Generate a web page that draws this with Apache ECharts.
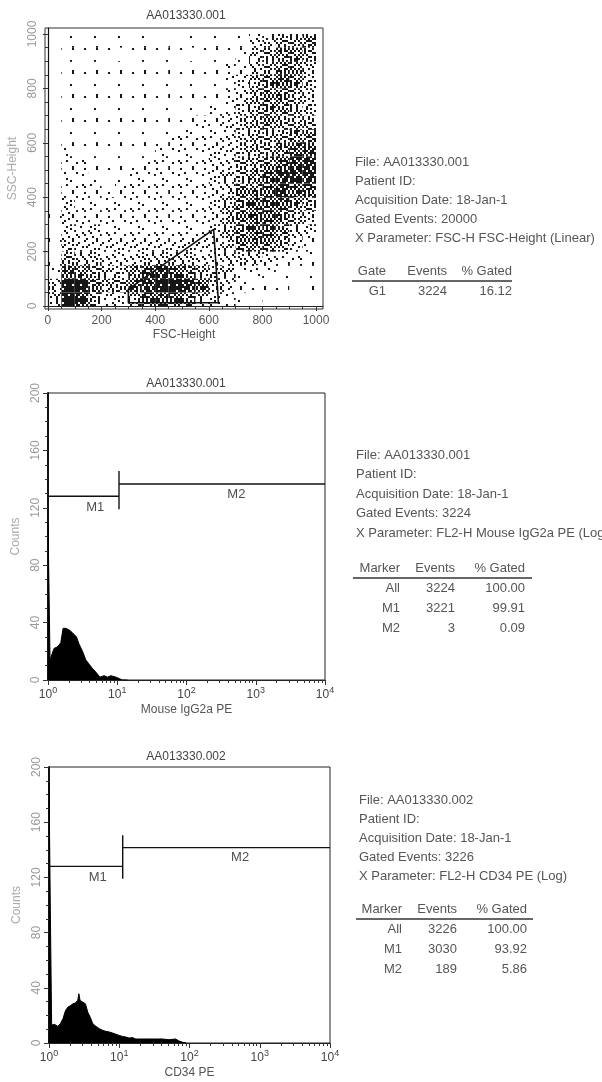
<!DOCTYPE html>
<html>
<head>
<meta charset="utf-8">
<script src="https://cdn.jsdelivr.net/npm/echarts@6/dist/echarts.min.js"></script>
<style>
  html, body { margin: 0; padding: 0; background: #fff; }
  #chart { width: 602px; height: 1082px; }
</style>
</head>
<body>
<div id="chart"></div>
<script>
// ---- panel 1: FSC-Height / SSC-Height dot plot, read as 50-channel density bins ----
// level 0 = empty ... 9 = solid black
var fscBins = [25, 75, 125, 175, 225, 275, 325, 375, 425, 475, 525, 575, 625, 675, 725, 775, 825, 875, 925, 975];
var sscBinsTopDown = [975, 925, 875, 825, 775, 725, 675, 625, 575, 525, 475, 425, 375, 325, 275, 225, 175, 125, 75, 25];
var densityTopDown = [
  [0,1,1,1,0,1,1,1,0,1,1,1,1,1,1,3,4,5,5,6],
  [0,1,1,1,1,0,1,1,1,1,0,1,1,1,2,4,5,6,6,5],
  [0,1,1,1,1,1,1,1,1,1,1,1,1,2,2,4,5,6,6,4],
  [0,1,1,1,1,1,1,1,1,1,1,1,1,2,3,5,6,7,6,4],
  [0,1,1,1,1,1,1,1,1,1,1,1,1,2,3,5,6,6,5,4],
  [0,1,1,1,1,1,1,1,1,1,1,1,2,2,4,5,6,6,5,4],
  [0,1,1,1,1,1,1,1,1,1,1,2,2,3,4,5,6,5,5,5],
  [0,1,1,1,1,1,1,1,1,2,2,2,2,3,4,5,5,5,6,6],
  [0,2,1,1,1,1,1,1,2,2,2,2,3,3,4,5,5,6,7,7],
  [0,2,2,1,1,1,1,2,2,2,2,2,3,3,5,5,6,7,8,8],
  [0,2,2,1,1,1,2,2,2,2,2,2,3,4,5,6,7,8,8,8],
  [0,2,2,2,1,2,2,2,2,2,2,2,3,4,6,6,7,8,7,7],
  [1,3,2,2,2,2,2,2,2,2,2,2,3,5,6,7,7,7,6,5],
  [1,3,2,2,2,2,2,2,2,2,2,2,3,5,6,7,7,6,5,4],
  [1,3,3,3,2,2,2,2,2,2,2,2,3,5,6,7,7,6,4,3],
  [1,4,3,3,3,3,3,3,3,3,3,3,3,4,6,6,6,5,3,2],
  [1,5,4,4,3,3,3,4,4,4,4,3,3,4,4,4,3,2,2,1],
  [2,7,6,5,4,4,6,7,8,7,6,5,4,4,2,2,2,1,1,1],
  [4,9,9,6,5,5,7,8,9,9,8,7,4,3,2,1,1,1,0,1],
  [4,9,8,5,3,3,5,7,7,7,6,4,3,2,1,1,0,0,0,0]
];
var binWidth = 50;
var gateG1 = [[300, 12], [300, 62], [618, 282], [636, 12], [300, 12]];
var linTicks = [0, 200, 400, 600, 800, 1000];

// ---- panel 2: Mouse IgG2a PE histogram (fluorescence, counts) ----
var iggFl = [1.00, 1.05, 1.07, 1.09, 1.22, 1.36, 1.53, 1.65, 1.72, 1.80, 2.01, 2.25, 2.58, 2.81, 3.15, 3.52, 3.93, 4.39, 5.01, 5.61, 6.48, 7.24, 8.09, 9.57, 10.7, 11.9, 14];
var iggCounts = [110, 110, 14, 15, 22, 23, 26, 36, 37, 36, 35, 33, 30, 25, 20, 14, 11, 8, 5, 2, 3, 2, 3, 2, 1, 0, 0];
var iggMarkerEdges = [1, 10.6, 10000];
var iggMarkerLevels = [128, 136.6];

// ---- panel 3: CD34 PE histogram ----
var cd34Fl = [1.00, 1.035, 1.045, 1.075, 1.09, 1.12, 1.20, 1.34, 1.45, 1.58, 1.72, 1.86, 2.01, 2.19, 2.38, 2.57, 2.66, 2.77, 3.03, 3.30, 3.56, 3.85, 4.20, 4.68, 5.21, 5.81, 6.48, 7.22, 8.05, 8.98, 10.0, 11.1, 12.4, 13.8, 15.4, 17.2, 21.4, 26.5, 33.0, 41.0, 51.0, 63.4, 70.7, 80, 90];
var cd34Counts = [188, 188, 97, 97, 13, 13, 13.5, 12, 14, 17.6, 23.6, 26, 27, 28.4, 29, 31, 35.7, 30.8, 29.6, 28.4, 22.4, 18.8, 14, 12, 10.4, 9.2, 8.4, 8, 7.2, 6.3, 5.5, 4.8, 4.3, 3.6, 3.9, 2.9, 2.9, 2.9, 2.9, 2.9, 2.4, 2.9, 1.5, 0.5, 0];
var cd34MarkerEdges = [1, 11.2, 10000];
var cd34MarkerLevels = [128, 141.6];

var decades = [0, 1, 2, 3, 4];
var countTicks = [0, 40, 80, 120, 160, 200];

// ---- stats text ----
var info1 = ['File: AA013330.001', 'Patient ID:', 'Acquisition Date: 18-Jan-1', 'Gated Events: 20000', 'X Parameter: FSC-H FSC-Height (Linear)'];
var table1 = [['Gate', 'Events', '% Gated'], ['G1', '3224', '16.12']];
var info2 = ['File: AA013330.001', 'Patient ID:', 'Acquisition Date: 18-Jan-1', 'Gated Events: 3224', 'X Parameter: FL2-H Mouse IgG2a PE (Log)'];
var table2 = [['Marker', 'Events', '% Gated'], ['All', '3224', '100.00'], ['M1', '3221', '99.91'], ['M2', '3', '0.09']];
var info3 = ['File: AA013330.002', 'Patient ID:', 'Acquisition Date: 18-Jan-1', 'Gated Events: 3226', 'X Parameter: FL2-H CD34 PE (Log)'];
var table3 = [['Marker', 'Events', '% Gated'], ['All', '3226', '100.00'], ['M1', '3030', '93.92'], ['M2', '189', '5.86']];

var FONT = '"Liberation Sans", Arial, sans-serif';
var chart = echarts.init(document.getElementById('chart'));

// dot texture so the density bins read as speckles, like the printed dot plot
var ditherOrder = [
  [0, 24, 8, 30, 14, 20],
  [33, 16, 27, 4, 35, 10],
  [6, 12, 2, 21, 18, 28],
  [22, 31, 25, 9, 32, 1],
  [15, 3, 19, 34, 7, 26],
  [29, 11, 23, 13, 5, 17]
];
var quadRank = [[0, 2], [3, 1]];
function slotRank(r, c) {
  var qr = r >= 6 ? 1 : 0, qc = c >= 6 ? 1 : 0, rr = r % 6, cc = c % 6, base;
  if (!qr && !qc) base = ditherOrder[rr][cc];
  else if (!qr && qc) base = ditherOrder[cc][rr];
  else if (qr && !qc) base = ditherOrder[5 - rr][cc];
  else base = ditherOrder[rr][5 - cc];
  return base * 4 + quadRank[qr][qc];
}
var patterns = {};
function dotPattern(level) {
  if (patterns[level]) return patterns[level];
  var cv = document.createElement('canvas');
  cv.width = 24; cv.height = 24;
  var ctx = cv.getContext('2d');
  ctx.fillStyle = '#161616';
  var n = Math.round(144 * 0.93 * Math.pow(level / 9, 1.6));
  for (var r = 0; r < 12; r++) {
    for (var c = 0; c < 12; c++) {
      if (slotRank(r, c) < n) ctx.fillRect(c * 2, r * 2, 2, 2);
    }
  }
  patterns[level] = { image: cv, repeat: 'repeat' };
  return patterns[level];
}

var densityData = [];
densityTopDown.forEach(function (row, i) {
  row.forEach(function (lv, j) {
    if (lv > 0) densityData.push([fscBins[j], sscBinsTopDown[i], lv]);
  });
});

var linMinor = [];
for (var t = 50; t < 1024; t += 50) { if (t % 200) linMinor.push(t); }
var logMinor = [];
[0, 1, 2, 3].forEach(function (d) {
  [2, 3, 4, 5, 6, 7, 8, 9].forEach(function (k) { logMinor.push(d + Math.log10(k)); });
});

function toLog(xs, ys) {
  return xs.map(function (x, i) { return [Math.log10(x), ys[i]]; });
}

var tickLine = { color: '#333', width: 1 };
var plainFmt = function (v) { return String(v); };

function mainX(grid, min, max, ticks, name, gap, fmt, rich) {
  return {
    gridIndex: grid, type: 'value', position: 'bottom', min: min, max: max,
    splitLine: { show: false },
    axisLine: { lineStyle: { color: '#222', width: 1.2 } },
    axisTick: { customValues: ticks, length: 5, lineStyle: tickLine },
    axisLabel: { customValues: ticks, margin: 6, color: '#555', fontSize: 12, fontFamily: FONT, formatter: fmt || plainFmt, rich: rich },
    name: name, nameLocation: 'middle', nameGap: gap,
    nameTextStyle: { color: '#555', fontSize: 12, fontFamily: FONT }
  };
}
function minorX(grid, min, max, ticks) {
  return {
    gridIndex: grid, type: 'value', position: 'bottom', min: min, max: max,
    splitLine: { show: false }, axisLine: { show: false }, axisLabel: { show: false },
    axisTick: { customValues: ticks, length: 3, lineStyle: tickLine }
  };
}
function yAxisOf(grid, min, max, ticks, name) {
  return {
    gridIndex: grid, type: 'value', position: 'left', min: min, max: max,
    splitLine: { show: false },
    axisLine: { lineStyle: { color: '#111', width: grid === 0 ? 1.2 : 2 } },
    axisTick: { customValues: ticks, length: 5, lineStyle: tickLine },
    axisLabel: { customValues: ticks, rotate: 90, margin: 6, color: '#999', fontSize: 12, fontFamily: FONT, formatter: plainFmt },
    name: name, nameLocation: 'middle', nameGap: 26, nameRotate: 90,
    nameTextStyle: { color: '#aaa', fontSize: 12, fontFamily: FONT }
  };
}
function minorY(grid, min, max, ticks) {
  return {
    gridIndex: grid, type: 'value', position: 'left', min: min, max: max,
    splitLine: { show: false }, axisLine: { show: false }, axisLabel: { show: false },
    axisTick: { customValues: ticks, length: 3, lineStyle: tickLine }
  };
}

var countMinor = [];
for (var c = 10; c < 200; c += 10) { if (c % 40) countMinor.push(c); }

var logFmt = function (v) { return '{b|10}{s|' + v + '}'; };
var logRich = {
  b: { fontSize: 12, color: '#444', fontFamily: FONT },
  s: { fontSize: 9, color: '#444', fontFamily: FONT, padding: [0, 0, 9, 0] }
};

function markerSeries(xi, edges, levels) {
  var lx = edges.map(function (e) { return Math.log10(e); });
  var st = { color: '#111', width: 1.4 };
  return [
    { type: 'line', xAxisIndex: xi, yAxisIndex: xi, symbol: 'none', silent: true, lineStyle: st,
      data: [[lx[0], levels[0]], [lx[1], levels[0]]] },
    { type: 'line', xAxisIndex: xi, yAxisIndex: xi, symbol: 'none', silent: true, lineStyle: st,
      data: [[lx[1], levels[1]], [lx[2], levels[1]]] },
    { type: 'line', xAxisIndex: xi, yAxisIndex: xi, symbol: 'none', silent: true, lineStyle: st,
      data: [[lx[1], levels[0] - 9], [lx[1], levels[1] + 9]] },
    { type: 'scatter', xAxisIndex: xi, yAxisIndex: xi, symbolSize: 0, silent: true,
      label: { show: true, position: 'inside', color: '#222', fontSize: 13, fontFamily: FONT,
        formatter: function (p) { return p.value[2]; } },
      data: [[(lx[0] + lx[1]) / 2 + 0.17, levels[0] - 8, 'M1'], [2.72, levels[1] - 7, 'M2']] }
  ];
}

function histSeries(xi, xs, ys) {
  return {
    type: 'line', xAxisIndex: xi, yAxisIndex: xi, symbol: 'none', silent: true,
    lineStyle: { color: '#000', width: 1 }, areaStyle: { color: '#000', opacity: 1 },
    data: toLog(xs, ys)
  };
}

var graphics = [];
function addTitle(text, y) {
  graphics.push({ type: 'text', style: { text: text, x: 186, y: y, align: 'center', verticalAlign: 'middle',
    font: '12px ' + FONT, fill: '#444' } });
}
function addInfo(lines, x, y0, step, table, ty, cols, ruleEnd) {
  lines.forEach(function (s, i) {
    graphics.push({ type: 'text', style: { text: s, x: x, y: y0 + i * step, verticalAlign: 'middle',
      font: '13px ' + FONT, fill: '#555' } });
  });
  table.forEach(function (row, r) {
    row.forEach(function (cell, k) {
      graphics.push({ type: 'text', style: { text: cell, x: cols[k], y: ty + 20 * r, align: 'right',
        verticalAlign: 'middle', font: '13px ' + FONT, fill: '#555' } });
    });
  });
  graphics.push({ type: 'line', shape: { x1: x - 3, y1: ty + 10, x2: ruleEnd, y2: ty + 10 },
    style: { stroke: '#333', lineWidth: 1.5 } });
}

addTitle('AA013330.001', 16);
addTitle('AA013330.001', 384);
addTitle('AA013330.002', 757);
addInfo(info1, 355, 162, 19, table1, 271, [386, 447, 512], 512);
addInfo(info2, 356, 455, 19.5, table2, 568, [400, 455, 525], 532);
addInfo(info3, 359, 800, 19.2, table3, 909, [402, 457, 527], 533);

var option = {
  animation: false,
  backgroundColor: '#fff',
  grid: [
    { left: 45, top: 28, width: 278, height: 281, show: true, borderColor: '#333', borderWidth: 1 },
    { left: 48, top: 393, width: 277, height: 287, show: true, borderColor: '#222', borderWidth: 1 },
    { left: 49, top: 767, width: 281, height: 276, show: true, borderColor: '#222', borderWidth: 1 }
  ],
  xAxis: [
    mainX(0, -11, 1026, linTicks, 'FSC-Height', 20),
    minorX(0, -11, 1026, linMinor),
    mainX(1, 0, 4, decades, 'Mouse IgG2a PE', 24, logFmt, logRich),
    minorX(1, 0, 4, logMinor),
    mainX(2, 0, 4, decades, 'CD34 PE', 24, logFmt, logRich),
    minorX(2, 0, 4, logMinor)
  ],
  yAxis: [
    yAxisOf(0, -11, 1022, linTicks, 'SSC-Height'),
    minorY(0, -11, 1022, linMinor),
    yAxisOf(1, 0, 200, countTicks, 'Counts'),
    minorY(1, 0, 200, countMinor),
    yAxisOf(2, 0, 200, countTicks, 'Counts'),
    minorY(2, 0, 200, countMinor)
  ],
  graphic: graphics,
  series: [
    {
      type: 'custom', xAxisIndex: 0, yAxisIndex: 0, silent: true, data: densityData,
      renderItem: function (params, api) {
        var p = api.coord([api.value(0), api.value(1)]);
        var s = api.size([binWidth, binWidth]);
        return {
          type: 'rect',
          shape: { x: p[0] - s[0] / 2, y: p[1] - s[1] / 2, width: s[0], height: s[1] },
          style: { fill: dotPattern(api.value(2)) }
        };
      }
    },
    {
      type: 'line', xAxisIndex: 0, yAxisIndex: 0, symbol: 'none', silent: true,
      lineStyle: { color: '#111', width: 1.6 }, data: gateG1
    },
    histSeries(2, iggFl, iggCounts),
    histSeries(4, cd34Fl, cd34Counts)
  ].concat(markerSeries(2, iggMarkerEdges, iggMarkerLevels))
   .concat(markerSeries(4, cd34MarkerEdges, cd34MarkerLevels))
};

chart.setOption(option);
</script>
</body>
</html>
